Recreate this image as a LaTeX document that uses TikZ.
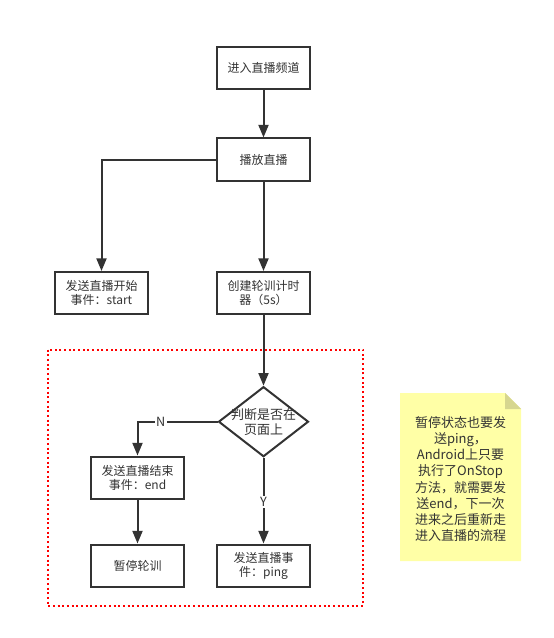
\documentclass[tikz,border=0pt]{standalone}
\usepackage{fontspec}
\setmainfont{Noto Sans CJK SC}
\usetikzlibrary{arrows.meta,shapes.geometric}
\definecolor{ink}{HTML}{333333}
\definecolor{notefill}{HTML}{FFFFA6}
\definecolor{notefold}{HTML}{D6D68F}
\tikzset{
  box/.style={draw=ink, line width=1.5pt, minimum width=69.75pt, minimum height=31.5pt, inner sep=1pt, align=center, text=ink, font=\fontsize{9}{10.5}\selectfont},
  conn/.style={draw=ink, line width=1.5pt, -{Triangle[length=9.5pt,width=7.5pt]}},
  lbl/.style={fill=white, text=ink, inner sep=1pt, font=\fontsize{9.5}{10.5}\selectfont},
}
\begin{document}
\begin{tikzpicture}[x=0.75pt,y=-0.75pt]
\useasboundingbox (0,0) rectangle (553,638);
% dotted region
\draw[red, line width=1.5pt, dash pattern=on 1.5pt off 2pt] (47.5,349.5) rectangle (363,605.5);
% nodes
\node[box] (enter) at (263.5,68) {进入直播频道};
\node[box] (play) at (263.5,159.5) {播放直播};
\node[box] (start) at (101.5,293) {发送直播开始\\事件：start};
\node[box] (timer) at (263.5,293) {创建轮训计时\\器（5s）};
\node[draw=ink, line width=1.5pt, diamond, minimum width=67.5pt, minimum height=52.5pt, inner sep=0pt, aspect=1.3] (judge) at (263.5,421.7) {};
\node[text=ink, align=center, font=\fontsize{9.75}{11}\selectfont] (judgetext) at (263.5,422) {判断是否在\\页面上};
\node[box] (endev) at (137.5,477.5) {发送直播结束\\事件：end};
\node[box] (pause) at (137.5,565.5) {暂停轮训};
\node[box] (ping) at (263.5,565.5) {发送直播事\\件：ping};
% connectors
\draw[conn] (enter) -- (play);
\draw[conn] (play.west) -| (start.north);
\draw[conn] (play) -- (timer);
\draw[conn] (timer) -- (judge.north);
\draw[conn] (judge.west) -| (endev.north) node[lbl, pos=0.355] {N};
\draw[conn] (endev) -- (pause);
\draw[conn] (judge.south) -- (ping.north) node[lbl, pos=0.52] {Y};
% note
\fill[notefill] (400,393) -- (505,393) -- (521,409) -- (521,561) -- (400,561) -- cycle;
\fill[notefold] (505,393) -- (521,409) -- (505,409) -- cycle;
\node[text=ink, align=center, font=\fontsize{9.75}{12.2}\selectfont] (note) at (460.5,479) {暂停状态也要发\\送ping，\\Android上只要\\执行了OnStop\\方法，就需要发\\送end，下一次\\进来之后重新走\\进入直播的流程};
\end{tikzpicture}
\end{document}
